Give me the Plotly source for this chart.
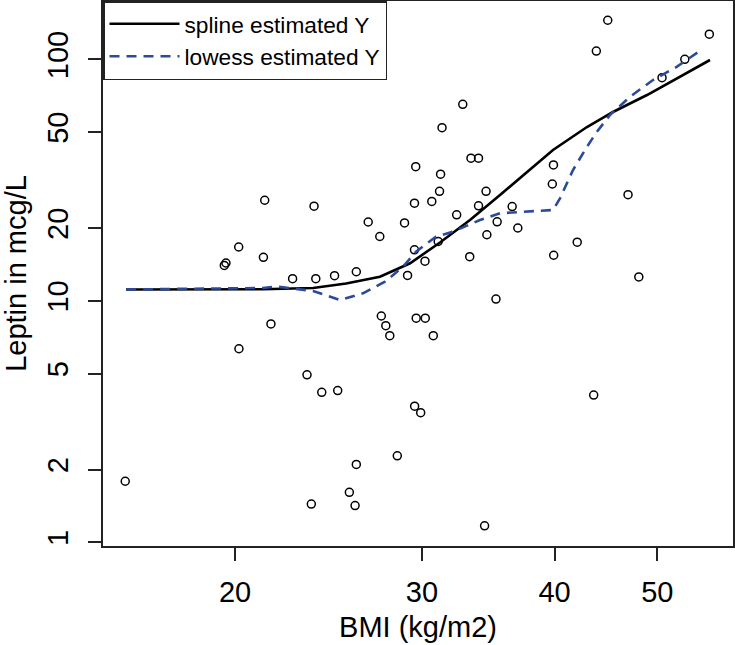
import plotly.graph_objects as go

# Observed data (BMI vs Leptin)
bmi = [15.76, 19.54, 19.61, 20.16, 20.17, 21.27, 21.33, 21.62, 22.66, 23.38,
       23.60, 23.74, 23.83, 24.14, 24.82, 24.99, 25.63, 25.95, 26.02, 26.02,
       26.70, 27.38, 27.47, 27.74, 27.98, 28.44, 28.89, 29.08, 29.52, 29.52,
       29.53, 29.60, 29.63, 29.92, 30.20, 30.22, 30.65, 30.75, 31.08, 31.17,
       31.24, 31.34, 32.35, 32.78, 33.28, 33.37, 33.92, 33.92, 34.37, 34.48,
       34.54, 35.23, 35.32, 36.49, 36.94, 39.81, 39.91, 39.93, 42.02, 43.55,
       43.80, 44.90, 46.92, 48.03, 50.51, 53.07, 55.97]
leptin = [1.79, 14.01, 14.34, 16.70, 6.33, 15.14, 26.08, 8.02, 12.35, 4.94,
          1.44, 24.64, 12.35, 4.18, 12.70, 4.25, 1.61, 1.42, 2.10, 13.19,
          21.20, 18.46, 8.65, 7.89, 7.17, 2.28, 21.00, 12.73, 25.37, 16.26,
          3.66, 35.92, 8.47, 3.44, 14.59, 8.47, 25.78, 7.17, 17.60, 28.41,
          33.44, 52.10, 22.70, 65.12, 15.23, 38.96, 38.96, 24.74, 1.17, 28.41,
          18.77, 10.17, 21.24, 24.57, 20.02, 30.45, 36.51, 15.44, 17.49, 4.07,
          108.2, 145.1, 27.50, 12.55, 83.94, 100.0, 127.0]

# Spline estimated curve
spline_bmi = [15.79, 18.54, 21.25, 23.69, 25.45, 27.39, 29.24, 31.20, 33.30,
              35.54, 38.18, 39.87, 42.92, 45.41, 48.89, 52.52, 56.05]
spline_y = [11.14, 11.14, 11.16, 11.30, 11.79, 12.58, 14.30, 17.44, 21.61,
            27.42, 35.81, 42.11, 52.44, 60.52, 71.13, 84.47, 99.33]

# Lowess estimated curve
lowess_bmi = [15.79, 21.25, 21.90, 23.69, 25.12, 26.40, 27.69, 28.80, 29.62,
              30.93, 32.09, 34.03, 35.54, 37.93, 39.87, 40.48, 41.64, 42.92,
              43.86, 45.12, 47.13, 49.53, 52.18, 54.85]
lowess_y = [11.14, 11.30, 11.45, 10.98, 10.08, 10.74, 12.00, 13.84, 15.97,
            18.43, 19.32, 21.61, 23.04, 23.39, 23.77, 26.57, 34.80, 43.45,
            50.14, 58.81, 69.99, 82.09, 93.21, 108.5]

x_ticks = [20, 30, 40, 50]
y_ticks = [1, 2, 5, 10, 20, 50, 100]

FONT = "Liberation Sans, Arial, sans-serif"

fig = go.Figure()
fig.add_trace(go.Scatter(
    x=bmi, y=leptin, mode="markers", showlegend=False,
    marker=dict(symbol="circle-open", size=8, color="black",
                line=dict(width=1.5, color="black")),
))
fig.add_trace(go.Scatter(
    x=spline_bmi, y=spline_y, mode="lines", name="spline estimated Y",
    line=dict(color="black", width=2.6),
))
fig.add_trace(go.Scatter(
    x=lowess_bmi, y=lowess_y, mode="lines", name="lowess estimated Y",
    line=dict(color="#2c4a9a", width=2.6, dash="10px,7px"),
))

fig.update_layout(
    width=735, height=645,
    margin=dict(l=103, r=2, t=1, b=99, autoexpand=False),
    paper_bgcolor="white", plot_bgcolor="white",
    font=dict(family=FONT, color="black"),
    legend=dict(
        x=0, y=1, xanchor="left", yanchor="top",
        bgcolor="white", bordercolor="#222", borderwidth=1.5,
        font=dict(size=22.7, family=FONT, color="black"),
        tracegroupgap=0, itemwidth=70,
    ),
)
fig.update_xaxes(
    type="log", range=[1.17661, 1.77026], automargin=False,
    tickmode="array", tickvals=x_ticks, ticktext=[str(v) for v in x_ticks],
    ticks="outside", ticklen=13, tickwidth=2, tickcolor="#222",
    showline=True, linecolor="#222", linewidth=2, mirror=True,
    showgrid=False, zeroline=False,
    tickfont=dict(size=29, family=FONT, color="black"),
    ticklabelstandoff=6,
    title=dict(text="BMI (kg/m2)", font=dict(size=29, family=FONT, color="black"),
               standoff=10),
)
fig.update_yaxes(
    type="log", range=[-0.01532, 2.24141], automargin=False,
    tickmode="array", tickvals=y_ticks, ticktext=[str(v) for v in y_ticks],
    ticks="outside", ticklen=13, tickwidth=2, tickcolor="#222",
    showline=True, linecolor="#222", linewidth=2, mirror=True,
    showgrid=False, zeroline=False, tickangle=-90,
    tickfont=dict(size=29, family=FONT, color="black"),
    ticklabelstandoff=8,
    title=dict(text="Leptin in mcg/L", font=dict(size=29, family=FONT, color="black"),
               standoff=10),
)

fig.write_html("out.html",
               config={"displayModeBar": False},
               post_script="document.body.style.margin='0px';document.body.style.padding='0px';")
